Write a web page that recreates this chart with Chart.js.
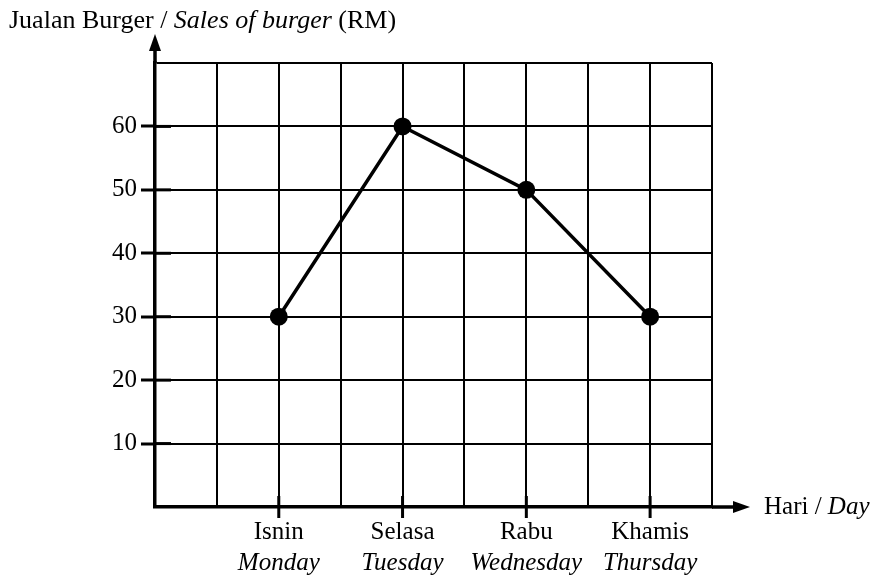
<!DOCTYPE html>
<html>
<head>
<meta charset="utf-8">
<script src="https://cdn.jsdelivr.net/npm/chart.js@4/dist/chart.umd.min.js"></script>
<style>
html, body { margin: 0; padding: 0; background: #fff; }
#wrap { width: 880px; height: 582px; }
</style>
</head>
<body>
<div id="wrap"><canvas id="chart" width="880" height="582"></canvas></div>
<script>
// Data
const days = ['Isnin', 'Selasa', 'Rabu', 'Khamis'];
const daysEnglish = ['Monday', 'Tuesday', 'Wednesday', 'Thursday'];
const dayPositions = [2, 4, 6, 8];   // each day sits on every second grid column
const sales = [30, 60, 50, 30];
const yLabelled = [10, 20, 30, 40, 50, 60];

const FONT = '"Liberation Serif", "Times New Roman", serif';
const FONT_SIZE = 25;
const TITLE_SIZE = 26;

// Draws the title, arrows, day labels and the small tick stubs
const decorations = {
    id: 'decorations',
    afterDraw(chart) {
        const ctx = chart.ctx;
        const area = chart.chartArea;
        const xs = chart.scales.x;
        const ys = chart.scales.y;
        ctx.save();
        ctx.fillStyle = '#000';
        ctx.strokeStyle = '#000';

        // y axis extension + arrow
        ctx.lineWidth = 3.5;
        ctx.beginPath();
        ctx.moveTo(area.left, area.top);
        ctx.lineTo(area.left, 48);
        ctx.stroke();
        ctx.beginPath();
        ctx.moveTo(area.left, 34);
        ctx.lineTo(area.left - 6, 51);
        ctx.lineTo(area.left + 6, 51);
        ctx.closePath();
        ctx.fill();

        // x axis extension + arrow
        ctx.beginPath();
        ctx.moveTo(area.right, area.bottom);
        ctx.lineTo(736, area.bottom);
        ctx.stroke();
        ctx.beginPath();
        ctx.moveTo(750, area.bottom);
        ctx.lineTo(733, area.bottom - 6);
        ctx.lineTo(733, area.bottom + 6);
        ctx.closePath();
        ctx.fill();

        // inner stubs of the y ticks
        ctx.lineWidth = 3;
        yLabelled.forEach(v => {
            const py = ys.getPixelForValue(v);
            ctx.beginPath();
            ctx.moveTo(area.left, py);
            ctx.lineTo(area.left + 16, py);
            ctx.stroke();
        });

        // x ticks and day labels
        ctx.textAlign = 'center';
        ctx.textBaseline = 'alphabetic';
        dayPositions.forEach((p, i) => {
            const px = xs.getPixelForValue(p);
            ctx.beginPath();
            ctx.moveTo(px, area.bottom - 11);
            ctx.lineTo(px, area.bottom + 11);
            ctx.stroke();
            ctx.font = FONT_SIZE + 'px ' + FONT;
            ctx.fillText(days[i], px, 539);
            ctx.font = 'italic ' + FONT_SIZE + 'px ' + FONT;
            ctx.fillText(daysEnglish[i], px, 570);
        });

        // x axis title
        ctx.textAlign = 'left';
        let x = 764;
        const ax = area.bottom + 7;
        ctx.font = FONT_SIZE + 'px ' + FONT;
        ctx.fillText('Hari / ', x, ax);
        x += ctx.measureText('Hari / ').width;
        ctx.font = 'italic ' + FONT_SIZE + 'px ' + FONT;
        ctx.fillText('Day', x, ax);

        // y axis title
        const parts = [
            ['Jualan Burger / ', ''],
            ['Sales of burger', 'italic '],
            [' (RM)', '']
        ];
        x = 9;
        parts.forEach(([t, style]) => {
            ctx.font = style + TITLE_SIZE + 'px ' + FONT;
            ctx.fillText(t, x, 28);
            x += ctx.measureText(t).width;
        });
        ctx.restore();
    }
};

new Chart(document.getElementById('chart'), {
    type: 'line',
    data: {
        datasets: [{
            data: dayPositions.map((p, i) => ({ x: p, y: sales[i] })),
            borderColor: '#000',
            backgroundColor: '#000',
            borderWidth: 3.5,
            pointRadius: 9,
            pointBackgroundColor: '#000',
            pointBorderWidth: 0,
            tension: 0,
            fill: false
        }]
    },
    options: {
        responsive: false,
        animation: false,
        layout: { padding: { left: 95, right: 168, top: 63, bottom: 75 } },
        plugins: {
            legend: { display: false },
            tooltip: { enabled: false }
        },
        scales: {
            x: {
                type: 'linear',
                min: 0,
                max: 9,
                ticks: { display: false, stepSize: 1 },
                grid: { color: '#000', lineWidth: 2, drawTicks: false },
                border: { display: true, color: '#000', width: 3.5 },
                afterFit(scale) { scale.height = 0; }
            },
            y: {
                min: 0,
                max: 70,
                ticks: {
                    stepSize: 10,
                    color: '#000',
                    padding: 4,
                    font: { family: FONT, size: FONT_SIZE },
                    callback: v => (yLabelled.includes(v) ? v : '')
                },
                grid: {
                    color: '#000',
                    lineWidth: 2,
                    tickLength: 14,
                    tickWidth: 3,
                    tickColor: c => (yLabelled.includes(c.tick.value) ? '#000' : 'rgba(0,0,0,0)')
                },
                border: { display: true, color: '#000', width: 3.5 },
                afterFit(scale) { scale.width = 60; }
            }
        }
    },
    plugins: [decorations]
});
</script>
</body>
</html>
